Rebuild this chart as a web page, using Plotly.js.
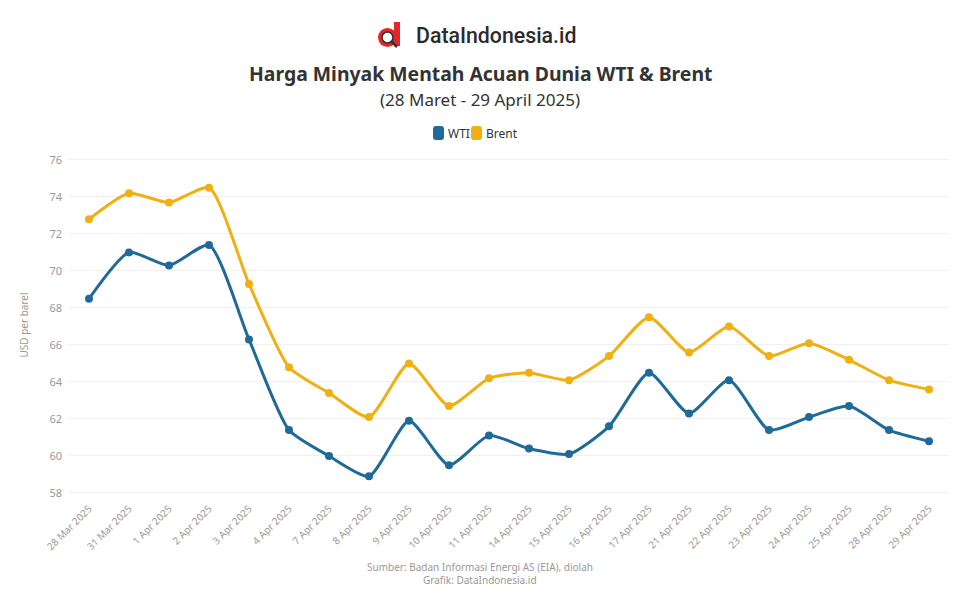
<!DOCTYPE html>
<html>
<head>
<meta charset="utf-8">
<script src="https://cdn.plot.ly/plotly-3.0.1.min.js"></script>
<style>html,body{margin:0;padding:0;background:#fff}#chart{width:960px;height:600px}</style>
</head>
<body>
<div id="chart"></div>
<script>
const dates = ["28 Mar 2025","31 Mar 2025","1 Apr 2025","2 Apr 2025","3 Apr 2025","4 Apr 2025","7 Apr 2025","8 Apr 2025","9 Apr 2025","10 Apr 2025","11 Apr 2025","14 Apr 2025","15 Apr 2025","16 Apr 2025","17 Apr 2025","21 Apr 2025","22 Apr 2025","23 Apr 2025","24 Apr 2025","25 Apr 2025","28 Apr 2025","29 Apr 2025"];
const wti   = [68.5,71.0,70.3,71.4,66.3,61.4,60.0,58.9,61.9,59.5,61.1,60.4,60.1,61.6,64.5,62.3,64.1,61.4,62.1,62.7,61.4,60.8];
const brent = [72.8,74.2,73.7,74.5,69.3,64.8,63.4,62.1,65.0,62.7,64.2,64.5,64.1,65.4,67.5,65.6,67.0,65.4,66.1,65.2,64.1,63.6];
const yTicks = [58,60,62,64,66,68,70,72,74,76];
const seriesNames = ["WTI","Brent"];
const colors = ["#1f6a99","#f0b012"];

const L=69, R=11, T=150, B=100, W=960, H=600;
const pw=W-L-R, ph=H-T-B;
const px=x=>(x-L)/pw, py=y=>(H-B-y)/ph;

function roundRect(x0,y0,x1,y1,r){
  const X=px, Y=py;
  return `M ${X(x0+r)} ${Y(y0)} L ${X(x1-r)} ${Y(y0)} Q ${X(x1)} ${Y(y0)} ${X(x1)} ${Y(y0+r)} L ${X(x1)} ${Y(y1-r)} Q ${X(x1)} ${Y(y1)} ${X(x1-r)} ${Y(y1)} L ${X(x0+r)} ${Y(y1)} Q ${X(x0)} ${Y(y1)} ${X(x0)} ${Y(y1-r)} L ${X(x0)} ${Y(y0+r)} Q ${X(x0)} ${Y(y0)} ${X(x0+r)} ${Y(y0)} Z`;
}

const traces = [
  {x:dates,y:wti,name:seriesNames[0],type:"scatter",mode:"lines+markers",
   line:{color:colors[0],width:3,shape:"spline",smoothing:0.6},marker:{color:colors[0],size:8}},
  {x:dates,y:brent,name:seriesNames[1],type:"scatter",mode:"lines+markers",
   line:{color:colors[1],width:3,shape:"spline",smoothing:0.6},marker:{color:colors[1],size:8}}
];

const layout = {
  width:W,height:H,showlegend:false,
  margin:{l:L,r:R,t:T,b:B},
  paper_bgcolor:"#fff",plot_bgcolor:"#fff",
  font:{family:"Noto Sans, sans-serif",color:"#333"},
  xaxis:{type:"category",range:[-0.5,dates.length-0.5],showgrid:false,showline:false,zeroline:false,
         tickangle:-45,tickfont:{size:10,color:"#999"},ticks:""},
  yaxis:{range:[57.62,76.54],tickvals:yTicks,showgrid:true,gridcolor:"#f1f1f1",zeroline:false,
         tickfont:{size:11,color:"#999"},ticks:"",ticklabelstandoff:6,
         title:{text:"USD per barel",font:{size:10,color:"#999"},standoff:18}},
  shapes:[
    {type:"circle",xref:"paper",yref:"paper",x0:px(378),x1:px(397),y0:py(47),y1:py(28),fillcolor:"#e3262b",line:{width:0}},
    {type:"rect",xref:"paper",yref:"paper",x0:px(394),x1:px(400),y0:py(46),y1:py(22),fillcolor:"#e3262b",line:{width:0}},
    {type:"circle",xref:"paper",yref:"paper",x0:px(382),x1:px(393),y0:py(43),y1:py(32),fillcolor:"#ffffff",line:{color:"#333",width:1.5}},
    {type:"line",xref:"paper",yref:"paper",x0:px(391),x1:px(397),y0:py(41),y1:py(47),line:{color:"#333",width:2.5}},
    {type:"path",xref:"paper",yref:"paper",path:roundRect(433,126,444,140,3),fillcolor:colors[0],line:{width:0}},
    {type:"path",xref:"paper",yref:"paper",path:roundRect(471,126,482,140,3),fillcolor:colors[1],line:{width:0}}
  ],
  annotations:[
    {text:"DataIndonesia.id",xref:"paper",yref:"paper",x:px(414),xanchor:"left",y:py(35),yanchor:"middle",showarrow:false,
     font:{family:"Roboto, sans-serif",size:21.3,color:"#2b2b2b",weight:500}},
    {text:"<b>Harga Minyak Mentah Acuan Dunia WTI & Brent</b>",xref:"paper",yref:"paper",x:px(480),xanchor:"center",y:py(73),yanchor:"middle",showarrow:false,
     font:{size:19.4,color:"#333"}},
    {text:"(28 Maret - 29 April 2025)",xref:"paper",yref:"paper",x:px(480),xanchor:"center",y:py(99),yanchor:"middle",showarrow:false,
     font:{size:17,color:"#333"}},
    {text:seriesNames[0],xref:"paper",yref:"paper",x:px(446),xanchor:"left",y:py(133),yanchor:"middle",showarrow:false,
     font:{size:12,color:"#333"}},
    {text:seriesNames[1],xref:"paper",yref:"paper",x:px(484),xanchor:"left",y:py(133),yanchor:"middle",showarrow:false,
     font:{size:12,color:"#333"}},
    {text:"Sumber: Badan Informasi Energi AS (EIA), diolah",xref:"paper",yref:"paper",x:px(480),xanchor:"center",y:py(567),yanchor:"middle",showarrow:false,
     font:{size:10,color:"#999"}},
    {text:"Grafik: DataIndonesia.id",xref:"paper",yref:"paper",x:px(480),xanchor:"center",y:py(580),yanchor:"middle",showarrow:false,
     font:{size:10,color:"#999"}}
  ]
};
Plotly.newPlot("chart",traces,layout,{displayModeBar:false,staticPlot:true});
</script>
</body>
</html>
